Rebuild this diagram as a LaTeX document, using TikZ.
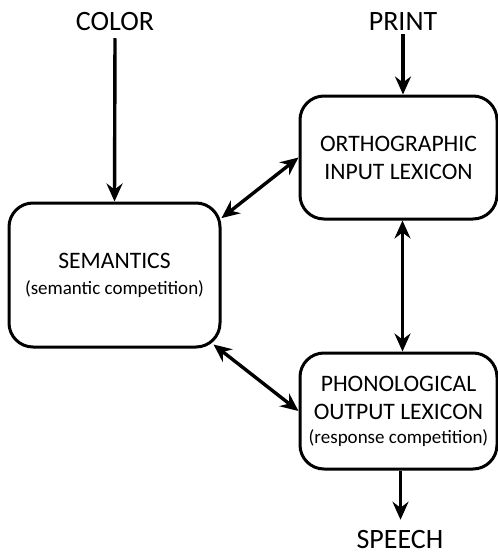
\documentclass[tikz,border=0pt]{standalone}
\usepackage{fontspec}
\setmainfont{Carlito}
\usetikzlibrary{arrows.meta,positioning}
\begin{document}
\begin{tikzpicture}[x=0.5pt,y=-0.5pt,
box/.style={draw,line width=1.5pt,rounded corners=12pt,align=center,font=\fontsize{11.8}{14}\selectfont},
lbl/.style={font=\fontsize{14}{16}\selectfont},
flow/.style={-{Stealth[length=9pt,width=8pt,inset=3pt]},line width=1.7pt},
both/.style={{Stealth[length=9pt,width=8pt,inset=3pt]}-{Stealth[length=9pt,width=8pt,inset=3pt]},line width=1.7pt}]
\useasboundingbox (0,0) rectangle (498,557);
\node[box,minimum width=105.5pt,minimum height=72pt] (sem) at (114.5,275) {SEMANTICS\\[-1pt]{\fontsize{9.5}{11}\selectfont(semantic competition)}};
\node[box,minimum width=98.5pt,minimum height=61.5pt] (ortho) at (398.5,157.5) {ORTHOGRAPHIC\\INPUT LEXICON};
\node[box,minimum width=98.5pt,minimum height=58pt] (phono) at (398.5,411) {PHONOLOGICAL\\OUTPUT LEXICON\\[-2pt]{\fontsize{9.5}{11}\selectfont(response competition)}};
\node[lbl] (color) at (115,22) {COLOR};
\node[lbl] (print) at (403,22) {PRINT};
\node[lbl] (speech) at (400,540) {SPEECH};
\draw[flow] (color.south) -- (sem.north);
\draw[flow] ([yshift=2pt]print.south) -- (print.south |- ortho.north);
\draw[both] (sem.28) -- (ortho.west);
\draw[both] ([xshift=-4pt,yshift=2pt]sem.south east) -- (phono.west);
\draw[both] ([xshift=2pt]ortho.south) -- ([xshift=2pt]phono.north);
\draw[flow] ([xshift=1pt]phono.south) -- ([xshift=1pt,yshift=2pt]phono.south |- speech.north);
\end{tikzpicture}
\end{document}
